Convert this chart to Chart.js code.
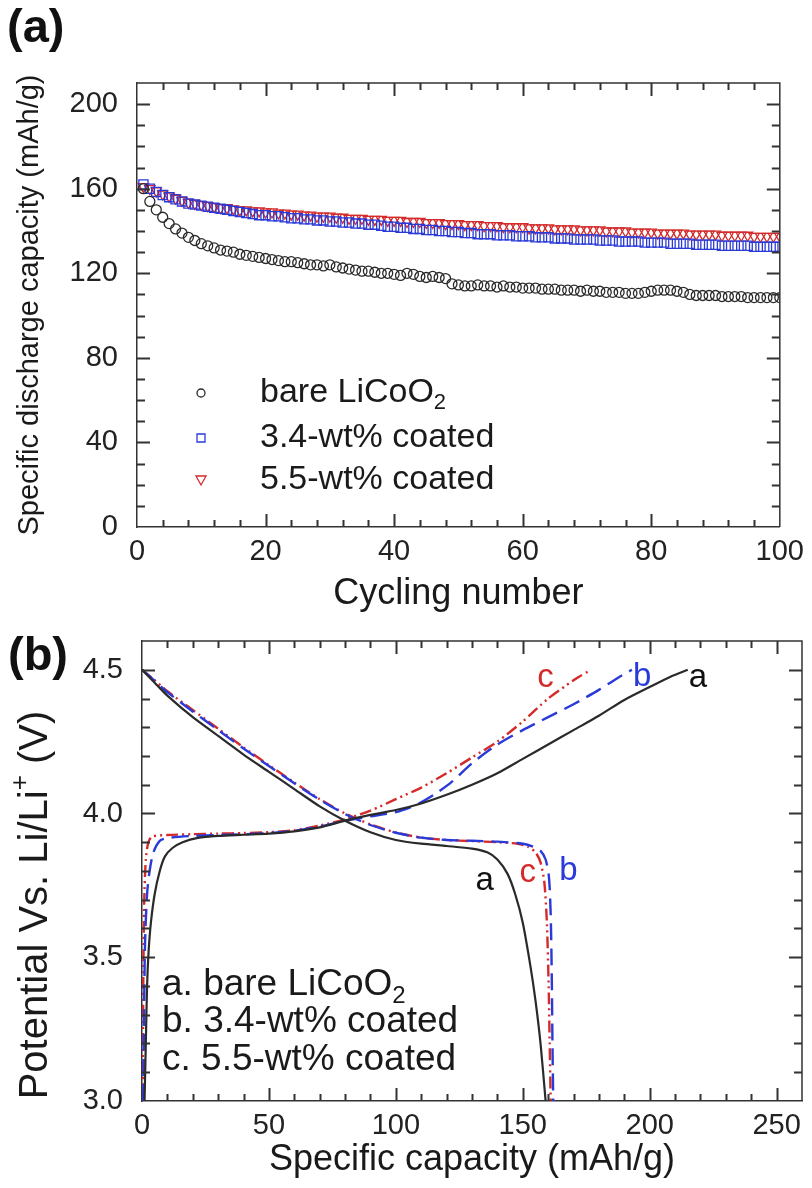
<!DOCTYPE html>
<html>
<head>
<meta charset="utf-8">
<script src="https://cdn.jsdelivr.net/npm/chart.js@4.4.1/dist/chart.umd.min.js"></script>
<style>
  body { margin: 0; background: #fff; width: 812px; height: 1188px; position: relative; overflow: hidden; }
  canvas { position: absolute; left: 0; }
  #capChart { top: 0; }
  #voltChart { top: 560px; }
  .panel { position: absolute; z-index: 5; font: bold 47px "Liberation Sans", Arial, sans-serif; color: #111; }
</style>
</head>
<body>
<canvas id="capChart" width="812" height="640"></canvas>
<canvas id="voltChart" width="812" height="628"></canvas>
<div class="panel" style="left:7px;top:-2px">(a)</div>
<div class="panel" style="left:8px;top:626px">(b)</div>
<script>
const FONT = '"Liberation Sans", Arial, Helvetica, sans-serif';
Chart.defaults.font.family = FONT;
Chart.defaults.color = '#222';

// ---- (a) discharge capacity vs cycle ----
const cycles = [];
for (let i = 1; i <= 100; i++) cycles.push(i);

const bareCap = [
  160, 154, 150, 146.5, 143.5, 141, 139, 137, 135.5, 134,
  133, 132, 131, 130.5, 130, 129, 128.5, 128, 127.5, 127,
  126.5, 126, 125.5, 125.5, 125, 124.5, 124, 124, 123.5, 124,
  123, 122.5, 122, 121.5, 121, 121, 120.5, 120, 120, 119.5,
  119, 120, 119.5, 118.5, 118, 118.5, 118, 117.5, 115, 114.5,
  114, 114, 114.5, 114, 114, 113.5, 114, 113.5, 113.5, 113,
  113, 113, 112.5, 112.5, 112.5, 112, 112, 112, 111.5, 112,
  111.5, 111.5, 111, 111, 111, 110.5, 110.5, 110.5, 111, 111.5,
  112, 112, 112, 111.5, 111, 110, 109.5, 109.5, 109.5, 109.5,
  109, 109, 109, 109, 108.5, 108.5, 108.5, 108.5, 108.5, 108.5
];
const coat34Cap = [
  162, 160, 158.5, 157, 156, 155, 154, 153, 152.5, 152,
  151.5, 151, 150.5, 150, 149.5, 149, 148.5, 148, 147.5, 147.5,
  147, 147, 146.5, 146, 146, 145.5, 145.5, 145, 145, 144.5,
  144.5, 144, 144, 143.5, 143.5, 143, 143, 142.5, 142, 142,
  141.5, 141.5, 141, 141, 140.5, 140.5, 140, 140, 139.5, 139.5,
  139, 139, 138.5, 138.5, 138.5, 138, 138, 138, 137.5, 137.5,
  137.5, 137, 137, 137, 136.5, 136.5, 136.5, 136, 136, 136,
  136, 135.5, 135.5, 135.5, 135, 135, 135, 135, 134.5, 134.5,
  134.5, 134.5, 134, 134, 134, 134, 133.5, 133.5, 133.5, 133.5,
  133, 133, 133, 133, 133, 132.5, 132.5, 132.5, 132.5, 132.5
];
const coat55Cap = [
  161, 160, 159, 157.5, 156.5, 155.5, 154.5, 153.5, 153, 152.5,
  152, 151.5, 151, 151, 150.5, 150, 150, 149.5, 149.5, 149,
  149, 148.5, 148.5, 148, 148, 147.5, 147.5, 147, 147, 147,
  146.5, 146.5, 146, 146, 146, 145.5, 145.5, 145.5, 145, 145,
  145, 144.5, 144.5, 144.5, 144, 144, 144, 143.5, 143.5, 143.5,
  143, 143, 143, 142.5, 142.5, 142.5, 142, 142, 142, 142,
  141.5, 141.5, 141.5, 141.5, 141, 141, 141, 141, 140.5, 140.5,
  140.5, 140.5, 140, 140, 140, 140, 139.5, 139.5, 139.5, 139.5,
  139, 139, 139, 139, 139, 138.5, 138.5, 138.5, 138.5, 138.5,
  138, 138, 138, 138, 138, 137.5, 137.5, 137.5, 137.5, 137.5
];
const capLabels = ['bare LiCoO|2', '3.4-wt% coated', '5.5-wt% coated'];

// ---- (b) voltage profiles ----
const aChgCap = [1, 1.5, 2, 2.6, 3.5, 5, 7, 9, 12, 16, 22, 30, 40, 50, 60, 70, 80, 90, 100, 110, 120, 130, 140, 150, 160, 170, 180, 190, 200, 208, 215];
const aChgV   = [3.0, 3.2, 3.4, 3.52, 3.62, 3.72, 3.8, 3.85, 3.88, 3.9, 3.915, 3.922, 3.926, 3.93, 3.938, 3.952, 3.975, 3.995, 4.012, 4.035, 4.065, 4.1, 4.14, 4.19, 4.24, 4.29, 4.34, 4.395, 4.44, 4.475, 4.5];
const aDisCap = [0, 5, 10, 20, 30, 40, 50, 60, 70, 80, 90, 100, 110, 120, 130, 136, 140, 144, 147, 150, 153, 155, 157, 159];
const aDisV   = [4.5, 4.455, 4.41, 4.335, 4.27, 4.205, 4.145, 4.085, 4.025, 3.975, 3.935, 3.908, 3.895, 3.887, 3.878, 3.865, 3.84, 3.79, 3.72, 3.62, 3.47, 3.35, 3.2, 3.0];
const bChgCap = [0.5, 0.8, 1.2, 2, 3, 4.5, 7, 10, 20, 30, 40, 50, 60, 70, 80, 90, 100, 108, 115, 122, 130, 140, 150, 160, 170, 180, 188, 193];
const bChgV   = [3.0, 3.3, 3.55, 3.72, 3.8, 3.865, 3.905, 3.915, 3.922, 3.925, 3.928, 3.932, 3.94, 3.955, 3.975, 3.99, 4.005, 4.03, 4.065, 4.11, 4.175, 4.24, 4.29, 4.335, 4.38, 4.43, 4.475, 4.5];
const bDisCap = [0, 5, 10, 20, 30, 40, 50, 60, 70, 80, 90, 100, 110, 120, 130, 140, 150, 154, 157, 159, 160.3, 161, 161.4, 161.7, 162];
const bDisV   = [4.5, 4.462, 4.422, 4.355, 4.29, 4.226, 4.165, 4.105, 4.048, 3.998, 3.96, 3.933, 3.916, 3.908, 3.905, 3.902, 3.895, 3.885, 3.87, 3.84, 3.78, 3.65, 3.45, 3.2, 3.0];
const cChgCap = [0.3, 0.5, 0.9, 1.5, 2.5, 4, 10, 20, 30, 40, 50, 60, 70, 80, 90, 100, 110, 120, 130, 140, 150, 160, 167, 172, 176];
const cChgV   = [3.0, 3.4, 3.7, 3.84, 3.9, 3.92, 3.925, 3.928, 3.93, 3.932, 3.935, 3.942, 3.958, 3.98, 4.01, 4.05, 4.09, 4.14, 4.195, 4.25, 4.32, 4.4, 4.445, 4.475, 4.495];
const cDisCap = [0, 5, 10, 20, 30, 40, 50, 60, 70, 80, 90, 100, 110, 120, 130, 140, 148, 152, 155, 157, 158.5, 159.5, 160.2, 160.6, 161];
const cDisV   = [4.5, 4.464, 4.425, 4.36, 4.295, 4.23, 4.168, 4.108, 4.05, 4.0, 3.962, 3.934, 3.916, 3.908, 3.904, 3.9, 3.895, 3.885, 3.865, 3.83, 3.76, 3.62, 3.4, 3.2, 3.0];

// curve tags (in data units) and legend lines
const tagText  = ['c', 'b', 'a', 'a', 'c', 'b'];
const tagCap   = [159, 197, 219, 135, 152, 168];
const tagV     = [4.47, 4.475, 4.47, 3.765, 3.795, 3.8];
const tagColor = ['#d42a2a', '#2a3ad8', '#111', '#111', '#d42a2a', '#2a3ad8'];
const voltLegend = ['a. bare LiCoO|2', 'b. 3.4-wt% coated', 'c. 5.5-wt% coated'];

const BLACK = '#2a2a2a', BLUE = '#2a3ad8', RED = '#d42a2a';

const pairs = (xs, ys) => xs.map((x, i) => ({x: x, y: ys[i]}));

// text with "|" marking a subscript part
function richText(ctx, x, y, str, size) {
  const [main, sub] = str.split('|');
  ctx.textAlign = 'left';
  ctx.textBaseline = 'middle';
  ctx.font = size + 'px ' + FONT;
  const w1 = ctx.measureText(main).width;
  ctx.fillText(main, x, y);
  if (sub) {
    ctx.font = Math.round(size * 0.65) + 'px ' + FONT;
    ctx.fillText(sub, x + w1, y + size * 0.3);
  }
}

// box frame plus inward major/minor tick marks on all four sides
const frameTicks = {
  id: 'frameTicks',
  afterDraw(chart, args, o) {
    const {ctx, chartArea: a, scales: {x, y}} = chart;
    ctx.save();
    ctx.strokeStyle = '#333';
    ctx.lineWidth = 1.5;
    ctx.beginPath();
    ctx.moveTo(a.left, a.top);
    ctx.lineTo(a.right, a.top);
    ctx.lineTo(a.right, a.bottom);
    ctx.stroke();
    ctx.lineWidth = 2;
    ctx.beginPath();
    const isMajor = (v, m) => Math.abs(v / m - Math.round(v / m)) < 1e-6;
    for (let v = x.min + o.xMinor; v < x.max - 1e-6; v += o.xMinor) {
      const px = Math.round(x.getPixelForValue(v)) + 0.5;
      const len = isMajor(v, o.xMajor) ? 13 : 7;
      ctx.moveTo(px, a.bottom); ctx.lineTo(px, a.bottom - len);
      ctx.moveTo(px, a.top); ctx.lineTo(px, a.top + len);
    }
    for (let v = y.min + o.yMinor; v < y.max - 1e-6; v += o.yMinor) {
      const py = Math.round(y.getPixelForValue(v)) + 0.5;
      const len = isMajor(v - y.min, o.yMajor) ? 13 : 8;
      ctx.moveTo(a.left, py); ctx.lineTo(a.left + len, py);
      ctx.moveTo(a.right, py); ctx.lineTo(a.right - len, py);
    }
    ctx.stroke();
    ctx.restore();
  }
};

const capLegend = {
  id: 'capLegend',
  afterDraw(chart) {
    const {ctx} = chart;
    const rows = [393, 438, 480];
    ctx.save();
    chart.data.datasets.forEach((ds, i) => {
      ctx.strokeStyle = ds.borderColor;
      ctx.lineWidth = 1.3;
      const mx = 201, my = rows[i];
      ctx.beginPath();
      if (ds.pointStyle === 'circle') ctx.arc(mx, my, 4, 0, Math.PI * 2);
      else if (ds.pointStyle === 'rect') ctx.rect(mx - 4, my - 4, 8, 8);
      else { ctx.moveTo(mx - 5, my - 4); ctx.lineTo(mx + 5, my - 4); ctx.lineTo(mx, my + 5); ctx.closePath(); }
      ctx.stroke();
      ctx.fillStyle = '#1a1a1a';
      richText(ctx, 260, my, capLabels[i], 34);
    });
    ctx.restore();
  }
};

const voltDecor = {
  id: 'voltDecor',
  afterDraw(chart) {
    const {ctx, chartArea: a, scales: {x, y}} = chart;
    ctx.save();
    tagText.forEach((t, i) => {
      ctx.fillStyle = tagColor[i];
      ctx.font = '33px ' + FONT;
      ctx.textAlign = 'center';
      ctx.textBaseline = 'middle';
      ctx.fillText(t, x.getPixelForValue(tagCap[i]), y.getPixelForValue(tagV[i]));
    });
    ctx.fillStyle = '#1a1a1a';
    voltLegend.forEach((t, i) => {
      richText(ctx, 162, [425, 462, 500][i], t, 37);
    });
    // rotated y title with superscript
    const cy = a.top + 264;
    ctx.translate(36, cy);
    ctx.rotate(-Math.PI / 2);
    const size = 40;
    const p1 = 'Potential Vs. Li/Li', p2 = '+', p3 = ' (V)';
    ctx.font = size + 'px ' + FONT;
    const w1 = ctx.measureText(p1).width, w3 = ctx.measureText(p3).width;
    ctx.font = Math.round(size * 0.65) + 'px ' + FONT;
    const w2 = ctx.measureText(p2).width;
    const sx = -(w1 + w2 + w3) / 2;
    ctx.textAlign = 'left';
    ctx.textBaseline = 'middle';
    ctx.font = size + 'px ' + FONT;
    ctx.fillText(p1, sx, 0);
    ctx.font = Math.round(size * 0.65) + 'px ' + FONT;
    ctx.fillText(p2, sx + w1, -size * 0.38);
    ctx.font = size + 'px ' + FONT;
    ctx.fillText(p3, sx + w1 + w2, 0);
    ctx.restore();
  }
};

window.capChart = new Chart(document.getElementById('capChart'), {
  type: 'scatter',
  data: {
    datasets: [{
      label: 'bare LiCoO2',
      data: pairs(cycles, bareCap),
      pointStyle: 'circle',
      pointRadius: 5,
      borderColor: BLACK,
      backgroundColor: 'rgba(0,0,0,0)',
      borderWidth: 1.3
    }, {
      label: '3.4-wt% coated',
      data: pairs(cycles, coat34Cap),
      pointStyle: 'rect',
      pointRadius: 6.5,
      borderColor: BLUE,
      backgroundColor: 'rgba(0,0,0,0)',
      borderWidth: 1.3
    }, {
      label: '5.5-wt% coated',
      data: pairs(cycles, coat55Cap),
      pointStyle: 'triangle',
      pointRotation: 180,
      pointRadius: 6,
      borderColor: RED,
      backgroundColor: 'rgba(0,0,0,0)',
      borderWidth: 1.3
    }]
  },
  options: {
    responsive: false,
    animation: false,
    layout: {padding: {left: 0, top: 83, right: 32, bottom: 0}},
    plugins: {
      legend: {display: false},
      tooltip: {enabled: false},
      frameTicks: {xMajor: 20, xMinor: 4, yMajor: 40, yMinor: 10}
    },
    scales: {
      x: {
        type: 'linear', min: 0, max: 100,
        grid: {display: false, drawTicks: false},
        border: {color: '#333', width: 1.5},
        ticks: {stepSize: 20, includeBounds: false, padding: 8, font: {size: 29}, color: '#222'},
        title: {display: true, text: 'Cycling number', font: {size: 36}, color: '#1a1a1a', padding: {top: 0, bottom: 24}},
        afterFit(s) { s.height = 113; }
      },
      y: {
        type: 'linear', min: 0, max: 210,
        grid: {display: false, drawTicks: false},
        border: {color: '#333', width: 1.5},
        ticks: {stepSize: 40, includeBounds: false, padding: 19, font: {size: 29}, color: '#222'},
        title: {display: true, text: 'Specific discharge capacity (mAh/g)', font: {size: 29}, color: '#1a1a1a', padding: {top: 13, bottom: 0}},
        afterFit(s) { s.width = 137; }
      }
    }
  },
  plugins: [frameTicks, capLegend]
});

const lineSet = (label, data, color, dash, width) => ({
  label: label, data: data, showLine: true, pointRadius: 0,
  borderColor: color, borderWidth: width, borderDash: dash,
  backgroundColor: color, tension: 0.25, fill: false
});

window.voltChart = new Chart(document.getElementById('voltChart'), {
  type: 'scatter',
  data: {
    datasets: [
      lineSet('a charge', pairs(aChgCap, aChgV), BLACK, [], 2.2),
      lineSet('a discharge', pairs(aDisCap, aDisV), BLACK, [], 2.2),
      lineSet('b charge', pairs(bChgCap, bChgV), BLUE, [17, 8], 2.4),
      lineSet('b discharge', pairs(bDisCap, bDisV), BLUE, [17, 8], 2.4),
      lineSet('c charge', pairs(cChgCap, cChgV), RED, [12, 4, 2, 4, 2, 4], 2.4),
      lineSet('c discharge', pairs(cDisCap, cDisV), RED, [12, 4, 2, 4, 2, 4], 2.4)
    ]
  },
  options: {
    responsive: false,
    animation: false,
    layout: {padding: {left: 0, top: 81, right: 10, bottom: 0}},
    plugins: {
      legend: {display: false},
      tooltip: {enabled: false},
      frameTicks: {xMajor: 50, xMinor: 10, yMajor: 0.5, yMinor: 0.1}
    },
    scales: {
      x: {
        type: 'linear', min: 0, max: 260,
        grid: {display: false, drawTicks: false},
        border: {color: '#333', width: 1.5},
        ticks: {stepSize: 50, includeBounds: false, padding: 8, font: {size: 29}, color: '#222'},
        title: {display: true, text: 'Specific capacity (mAh/g)', font: {size: 36}, color: '#1a1a1a', padding: {top: 0, bottom: 6}},
        afterFit(s) { s.height = 87; }
      },
      y: {
        type: 'linear', min: 3.0, max: 4.6,
        grid: {display: false, drawTicks: false},
        border: {color: '#333', width: 1.5},
        ticks: {stepSize: 0.5, includeBounds: false, padding: 19, font: {size: 29}, color: '#222',
                callback: v => Number(v).toFixed(1)},
        afterFit(s) { s.width = 142; }
      }
    }
  },
  plugins: [frameTicks, voltDecor]
});
</script>
</body>
</html>
